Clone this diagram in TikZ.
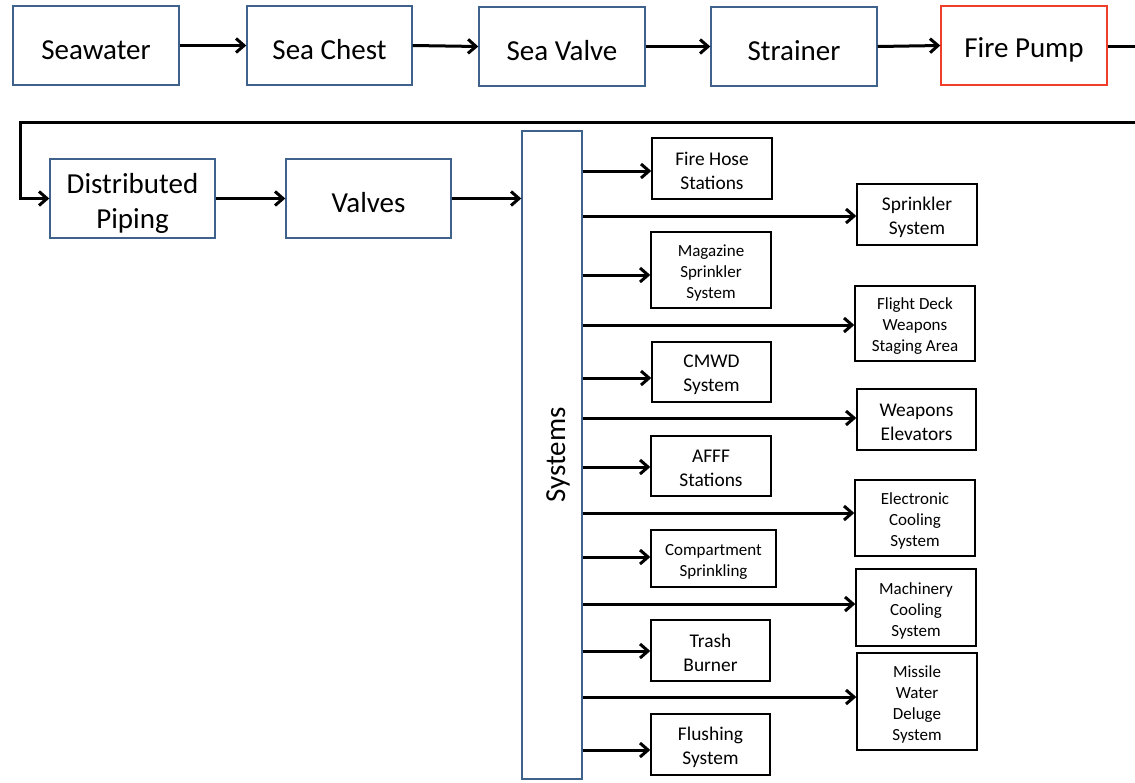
\documentclass[tikz,border=0pt]{standalone}
\usepackage{fontspec}
\setmainfont{Carlito}
\usetikzlibrary{arrows.meta}
\definecolor{boxblue}{RGB}{62,98,140}
\definecolor{pumpred}{RGB}{240,62,42}
\tikzset{
  flowbox/.style={draw=boxblue, line width=1.4pt, minimum width=166pt, minimum height=79pt,
    inner sep=0pt},
  subbox/.style={draw=black, line width=1.4pt, inner sep=0pt,
    minimum width=120pt, minimum height=61pt},
  big/.style={inner sep=0pt, align=center, font=\fontsize{29}{35}\selectfont, yshift=-4.5pt},
  med/.style={inner sep=0pt, align=center, font=\fontsize{19.4}{24}\selectfont, yshift=-2.5pt},
  sml/.style={inner sep=0pt, align=center, font=\fontsize{17}{21}\selectfont, yshift=-3pt},
  flow/.style={line width=3pt, -{Straight Barb[length=8pt,width=14pt]}},
  pipe/.style={line width=3pt},
}
\begin{document}
\begin{tikzpicture}[x=1pt,y=-1pt]
\useasboundingbox (0,0) rectangle (1135,782);

% supply chain, top row
\node[flowbox, label={[big]center:Seawater}] (sw) at (96,45.5) {};
\node[flowbox, minimum width=165pt, label={[big]center:Sea Chest}] (sc) at (329.5,45.5) {};
\node[flowbox, label={[big]center:Sea Valve}] (sv) at (562,46.5) {};
\node[flowbox, label={[big]center:Strainer}] (st) at (794,46.5) {};
\node[flowbox, draw=pumpred, label={[big]center:Fire Pump}] (fp) at (1024,45.5) {};

% second row
\node[flowbox, minimum width=165pt, label={[big]center:{Distributed\\Piping}}] (dp) at (132.5,198.5) {};
\node[flowbox, minimum width=165pt, label={[big]center:Valves}] (va) at (368.5,198.5) {};

% systems header
\node[draw=boxblue, line width=1.4pt, minimum width=60pt, minimum height=648pt, inner sep=0pt] (sys) at (552,455) {};
\node[rotate=90, inner sep=0pt, font=\fontsize{29}{35}\selectfont] (syslabel) at ([xshift=6pt]sys.center) {Systems};

% inner column of systems
\node[subbox, label={[med]center:{Fire Hose\\Stations}}] (fh) at (712,168.5) {};
\node[subbox, minimum height=76pt, label={[sml]center:{Magazine\\Sprinkler\\System}}] (ms) at (711,270) {};
\node[subbox, minimum width=119pt, minimum height=60pt, label={[med]center:{CMWD\\System}}] (cm) at (711.5,372) {};
\node[subbox, minimum height=60pt, label={[med]center:{AFFF\\Stations}}] (af) at (711,466) {};
\node[subbox, minimum width=125pt, minimum height=57pt, label={[sml]center:{Compartment\\Sprinkling}}] (cs) at (713.5,558.5) {};
\node[subbox, minimum width=119pt, label={[med]center:{Trash\\Burner}}] (tb) at (710.5,650.5) {};
\node[subbox, minimum width=119pt, label={[med]center:{Flushing\\System}}] (fl) at (710.5,744.5) {};

% outer column of systems
\node[subbox, label={[med]center:{Sprinkler\\System}}] (ss) at (917,214.5) {};
\node[subbox, minimum height=75pt, label={[sml]center:{Flight Deck\\Weapons\\Staging Area}}] (fd) at (915,323.5) {};
\node[subbox, minimum width=119pt, label={[med]center:{Weapons\\Elevators}}] (we) at (916.5,419.5) {};
\node[subbox, minimum height=76pt, label={[sml]center:{Electronic\\Cooling\\System}}] (ec) at (915,518) {};
\node[subbox, minimum height=77pt, label={[sml]center:{Machinery\\Cooling\\System}}] (mc) at (916,607.5) {};
\node[subbox, minimum height=97pt, label={[sml]center:{Missile\\Water\\Deluge\\System}}] (mw) at (917,701.5) {};

% top row flow
\draw[flow] (sw.east) -- (sc.west);
\draw[flow] (sc.east) -- (sv.west);
\draw[flow] (sv.east) -- (st.west);
\draw[flow] (st.east) -- (fp.west);

% return line from the pump to the second row
\coordinate (r1) at (1139,46.5);
\coordinate (r2) at (1139,122);
\coordinate (l1) at (20,122);
\draw[pipe, -{Straight Barb[length=8pt,width=14pt]}, line join=miter]
  (fp.east |- r1) -- (r1) -- (r2) -- (l1) |- (dp.west);

\draw[flow] (dp.east) -- (va.west);
\draw[flow] (va.east) -- (sys.west |- va.east);

% branches from the systems header
\draw[flow] (sys.east |- 0,171) -- (fh.west |- 0,171);
\draw[flow] (sys.east |- 0,216) -- (ss.west |- 0,216);
\draw[flow] (sys.east |- 0,275) -- (ms.west |- 0,275);
\draw[flow] (sys.east |- 0,325) -- (fd.west |- 0,325);
\draw[flow] (sys.east |- 0,378) -- (cm.west |- 0,378);
\draw[flow] (sys.east |- 0,418) -- (we.west |- 0,418);
\draw[flow] (sys.east |- 0,467) -- (af.west |- 0,467);
\draw[flow] (sys.east |- 0,513) -- (ec.west |- 0,513);
\draw[flow] (sys.east |- 0,557) -- (cs.west |- 0,557);
\draw[flow] (sys.east |- 0,604) -- (mc.west |- 0,604);
\draw[flow] (sys.east |- 0,651) -- (tb.west |- 0,651);
\draw[flow] (sys.east |- 0,697) -- (mw.west |- 0,697);
\draw[flow] (sys.east |- 0,750) -- (fl.west |- 0,750);
\end{tikzpicture}
\end{document}
